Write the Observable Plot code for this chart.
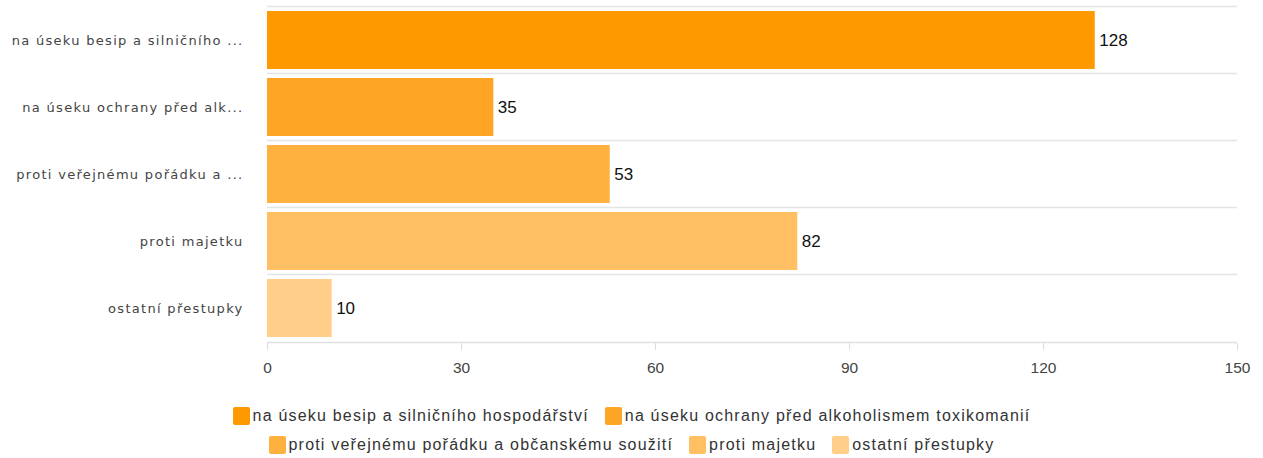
<!DOCTYPE html>
<html>
<head>
<meta charset="utf-8">
<script src="https://cdn.jsdelivr.net/npm/d3@7"></script>
<script src="https://cdn.jsdelivr.net/npm/@observablehq/plot@0.6"></script>
<style>
  body { margin: 0; background: #fff; }
  #chart svg { display: block; }
  #legend {
    width: 900px; margin: 22px auto 0 auto;
    display: flex; flex-wrap: wrap; justify-content: center;
    font-family: "Liberation Sans", Arial, sans-serif; font-size: 16px; color: #333;
    row-gap: 11px; column-gap: 16px; letter-spacing: 1.2px;
  }
  .item { display: flex; align-items: center; white-space: nowrap; }
  .sw { width: 17px; height: 18px; border-radius: 2px; margin-right: 3px; }
</style>
</head>
<body>
<div id="chart"></div>
<div id="legend"></div>
<script>
const categories = [
  "na úseku besip a silničního hospodářství",
  "na úseku ochrany před alkoholismem toxikomanií",
  "proti veřejnému pořádku a občanskému soužití",
  "proti majetku",
  "ostatní přestupky"
];
const tickLabels = [
  "na úseku besip a silničního ...",
  "na úseku ochrany před alk...",
  "proti veřejnému pořádku a ...",
  "proti majetku",
  "ostatní přestupky"
];
const values = [128, 35, 53, 82, 10];
const colors = ["#ff9900", "#ffa526", "#ffb140", "#ffbf62", "#ffcf8a"];
const xTicks = [0, 30, 60, 90, 120, 150];

const data = categories.map((c, i) => ({category: c, value: values[i], color: colors[i]}));
const labelOf = new Map(categories.map((c, i) => [c, tickLabels[i]]));

const W = 1263, H = 385, mt = 4, mb = 42;
const step = (H - mt - mb) / categories.length;

const chart = Plot.plot({
  width: W, height: H,
  marginLeft: 267, marginRight: 26, marginTop: mt, marginBottom: mb,
  x: {domain: [0, 150], ticks: xTicks, label: null},
  y: {domain: categories, paddingInner: 0.14, paddingOuter: 0.07, label: null},
  style: {background: "#fff"},
  marks: [
    Plot.ruleY(categories, {y: d => d, dy: -step / 2, stroke: "#e4e4e4", strokeWidth: 1.5}),
    Plot.barX(data, {y: "category", x: "value", fill: "color"}),
    Plot.ruleY([categories[categories.length - 1]], {dy: step / 2, stroke: "#e0e0e0", strokeWidth: 1.5}),
    Plot.axisX({ticks: xTicks, tickSize: 7, stroke: "#ddd", tickPadding: 11,
      fontSize: 15.5, fill: "#444", fontFamily: "Liberation Sans, Arial, sans-serif", label: null}),
    Plot.axisY({tickSize: 0, tickPadding: 24, tickFormat: d => labelOf.get(d),
      fontSize: 13, fill: "#444", fontFamily: "DejaVu Sans, Verdana, sans-serif", label: null}),
    Plot.text(data, {y: "category", x: "value", text: d => String(d.value), dx: 4,
      textAnchor: "start", fontSize: 17, fill: "#111", fontFamily: "Liberation Sans, Arial, sans-serif"})
  ]
});
chart.querySelectorAll("g[aria-label='y-axis tick label']").forEach(g => g.setAttribute("letter-spacing", "1.3"));
document.getElementById("chart").appendChild(chart);

const legend = document.getElementById("legend");
categories.forEach((c, i) => {
  const it = document.createElement("div"); it.className = "item";
  const sw = document.createElement("div"); sw.className = "sw"; sw.style.background = colors[i];
  const tx = document.createElement("span"); tx.textContent = c;
  it.appendChild(sw); it.appendChild(tx); legend.appendChild(it);
});
</script>
</body>
</html>
